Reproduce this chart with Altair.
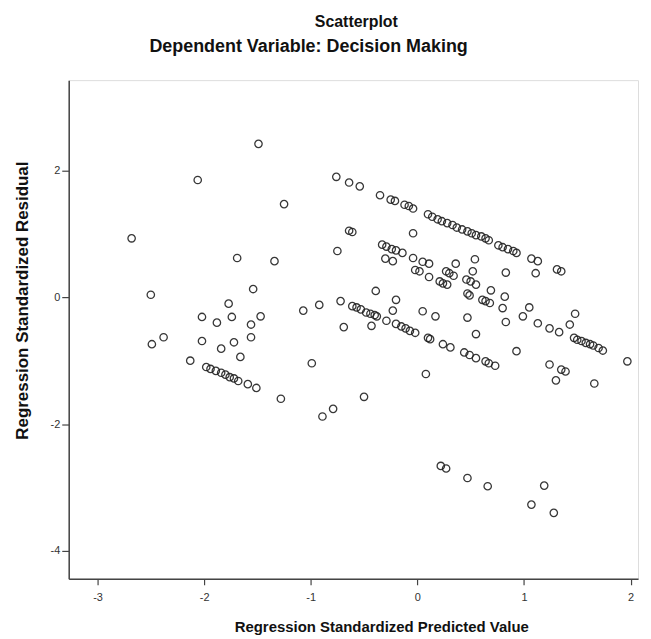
import altair as alt
import pandas as pd

# Regression standardized predicted value (x) / standardized residual (y), by visual group
left_x = [-1.49, -2.06, -1.25, -2.68, -1.69, -1.34, -2.50, -1.54, -1.77, -2.02, -1.74, -1.88, -1.56, -1.47,
          -2.38, -2.49, -2.02, -1.72, -1.56, -1.84, -1.66, -2.13, -1.98, -1.94, -1.89, -1.84, -1.80, -1.76,
          -1.72, -1.68, -1.59, -1.51, -1.28]
left_y = [2.42, 1.85, 1.47, 0.93, 0.62, 0.57, 0.04, 0.13, -0.10, -0.31, -0.31, -0.40, -0.43, -0.30,
          -0.63, -0.74, -0.69, -0.71, -0.63, -0.81, -0.94, -1.00, -1.10, -1.13, -1.16, -1.19, -1.22, -1.26,
          -1.28, -1.32, -1.37, -1.43, -1.60]

upper_x = [-0.76, -0.64, -0.54, -0.35, -0.25, -0.21, -0.12, -0.08, -0.04, 0.10, 0.14, 0.19, 0.23, 0.28,
           0.33, 0.37, 0.42, 0.47, 0.51, 0.55, 0.60, 0.64, 0.67, 0.76, 0.80, 0.85, 0.90, 0.93, 1.07, 1.13,
           1.31, 1.35]
upper_y = [1.90, 1.81, 1.75, 1.61, 1.54, 1.52, 1.46, 1.44, 1.40, 1.31, 1.27, 1.23, 1.20, 1.17,
           1.14, 1.10, 1.07, 1.04, 1.01, 0.98, 0.96, 0.93, 0.90, 0.82, 0.79, 0.76, 0.73, 0.70, 0.61, 0.57,
           0.44, 0.41]

mid_x = [-0.64, -0.61, -0.04, -0.75, -0.33, -0.29, -0.24, -0.20, -0.30, -0.23, -0.14, -0.04, 0.05, 0.11,
         -0.02, 0.02, 0.11, 0.36, 0.54, 0.52, 0.27, 0.30, 0.34, 0.21, 0.24, 0.28, 0.46, 0.50, 0.55, 0.47,
         0.49, 0.69, 0.82, 0.61, 0.64, 0.68, 0.80, 1.05, 0.99, 1.48, 0.83, 0.17, 0.47, 1.13, 1.24, 1.33,
         1.43, 0.55, 0.83, 1.11]
mid_y = [1.05, 1.03, 1.01, 0.73, 0.83, 0.80, 0.76, 0.74, 0.61, 0.57, 0.70, 0.62, 0.56, 0.53,
         0.43, 0.41, 0.32, 0.53, 0.60, 0.41, 0.41, 0.38, 0.34, 0.25, 0.22, 0.20, 0.28, 0.25, 0.20, 0.06,
         0.03, 0.11, 0.01, -0.04, -0.06, -0.09, -0.17, -0.16, -0.30, -0.26, -0.39, -0.30, -0.32, -0.41,
         -0.49, -0.55, -0.43, -0.58, 0.39, 0.38]

right_x = [1.47, 1.50, 1.54, 1.58, 1.62, 1.65, 1.70, 1.74, 1.97]
right_y = [-0.64, -0.67, -0.69, -0.72, -0.74, -0.76, -0.80, -0.84, -1.01]

lower_x = [-1.07, -0.92, -0.72, -0.61, -0.57, -0.53, -0.48, -0.44, -0.40, -0.38, -0.39, -0.20, -0.23,
           -0.29, -0.20, -0.15, -0.11, -0.07, -0.02, 0.05, -0.69, -0.43, -0.99, 0.08, 0.10, 0.12, 0.24,
           0.31, 0.44, 0.49, 0.55, 0.64, 0.67, 0.73, 0.93, 1.24, 1.35, 1.39, 1.30, 1.66]
lower_y = [-0.21, -0.12, -0.06, -0.14, -0.16, -0.19, -0.24, -0.26, -0.28, -0.30, 0.10, -0.04, -0.21,
           -0.37, -0.42, -0.46, -0.49, -0.53, -0.56, -0.22, -0.47, -0.45, -1.04, -1.21, -0.64, -0.66, -0.74,
           -0.79, -0.87, -0.91, -0.96, -1.01, -1.04, -1.08, -0.85, -1.06, -1.14, -1.17, -1.31, -1.36]

bottom_x = [-0.50, -0.79, -0.89, 0.22, 0.27, 0.47, 0.66, 1.19, 1.07, 1.28]
bottom_y = [-1.57, -1.76, -1.88, -2.66, -2.70, -2.85, -2.98, -2.97, -3.27, -3.40]

x_ticks = [-3, -2, -1, 0, 1, 2]
y_ticks = [-4, -2, 0, 2]

title_text = "Scatterplot"
subtitle_text = ["Dependent Variable: Decision Making"]

xs = left_x + upper_x + mid_x + right_x + lower_x + bottom_x
ys = left_y + upper_y + mid_y + right_y + lower_y + bottom_y
df = pd.DataFrame({"pred": xs, "resid": ys})

FONT = "Liberation Sans"
PLOT_W, PLOT_H = 572, 501

points = alt.Chart(df).mark_point(
    shape="circle", filled=False, size=55, strokeWidth=1.3, color="#222222", opacity=0.9
).encode(
    x=alt.X("pred:Q", scale=alt.Scale(domain=[-3.27, 2.07], nice=False, zero=False),
            axis=alt.Axis(values=x_ticks, labelExpr="'' + datum.value",
                          title="Regression Standardized Predicted Value",
                          grid=False, tickSize=6, labelPadding=7, titlePadding=17, titleX=314,
                          domainColor="#444444", domainWidth=1.5, tickColor="#444444", tickWidth=1.2,
                          labelFont=FONT, labelFontSize=11, labelColor="#333333",
                          titleFont=FONT, titleFontSize=15, titleFontWeight="bold", titleColor="#111111")),
    y=alt.Y("resid:Q", scale=alt.Scale(domain=[-4.44, 3.425], nice=False, zero=False),
            axis=alt.Axis(values=y_ticks, labelExpr="'' + datum.value",
                          title="Regression Standardized Residual",
                          grid=False, tickSize=7, labelPadding=2, titlePadding=19, titleY=221,
                          domainColor="#444444", domainWidth=1.5, tickColor="#444444", tickWidth=1.2,
                          labelFont=FONT, labelFontSize=11, labelColor="#333333",
                          titleFont=FONT, titleFontSize=17, titleFontWeight="bold", titleColor="#111111")),
)

subtitle = alt.Chart(pd.DataFrame({"t": subtitle_text})).mark_text(
    font=FONT, fontSize=18, fontWeight="bold", color="#111111", align="center", baseline="middle"
).encode(
    text="t:N", x=alt.value(241), y=alt.value(-33)
)

chart = alt.layer(points, subtitle).properties(
    width=PLOT_W, height=PLOT_H,
    padding={"left": 5, "top": 5, "right": 5, "bottom": 0},
    title=alt.TitleParams(
        text=title_text, font=FONT, fontSize=16, fontWeight="bold", color="#111111",
        offset=8, anchor="middle", dx=3
    )
).configure_view(
    fill="#F0F0F0", stroke="#999999", strokeWidth=1
).configure(background="white")

chart.save("out.html", embed_options={"renderer": "svg", "actions": False})
